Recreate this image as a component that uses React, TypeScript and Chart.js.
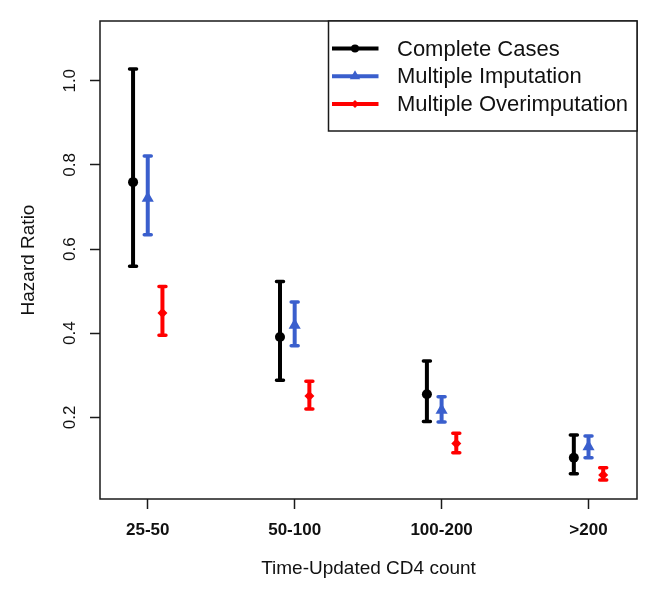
import React, { useEffect, useRef } from "react";
import { Chart, registerables } from "chart.js";
import { drawPoint } from "chart.js/helpers";

Chart.register(...registerables);

const categories = ["25-50", "50-100", "100-200", ">200"];
const seriesNames = ["Complete Cases", "Multiple Imputation", "Multiple Overimputation"];
const seriesColors = ["#000000", "#3A5FCD", "#FF0000"];
const seriesOffsets = [-0.1, 0, 0.1];

const ccEst = [0.759, 0.391, 0.255, 0.104];
const ccLo = [0.559, 0.288, 0.19, 0.066];
const ccHi = [1.028, 0.523, 0.334, 0.158];

const miEst = [0.721, 0.419, 0.217, 0.13];
const miLo = [0.634, 0.37, 0.189, 0.104];
const miHi = [0.821, 0.474, 0.249, 0.156];

const moEst = [0.448, 0.251, 0.138, 0.063];
const moLo = [0.395, 0.22, 0.116, 0.051];
const moHi = [0.511, 0.286, 0.162, 0.08];

const yTicks = [0.2, 0.4, 0.6, 0.8, 1.0];

const estimates = [ccEst, miEst, moEst];
const lows = [ccLo, miLo, moLo];
const highs = [ccHi, miHi, moHi];
const pointStyles = ["circle", "triangle", "rectRot"];
const pointRadii = [5, 7, 5];

const errorBarPlugin = {
  id: "errorBars",
  beforeDatasetsDraw(chart: any) {
    const ctx = chart.ctx;
    const xs = chart.scales.x;
    const ys = chart.scales.y;
    ctx.save();
    for (let s = 0; s < estimates.length; s++) {
      ctx.strokeStyle = seriesColors[s];
      for (let i = 0; i < categories.length; i++) {
        const px = xs.getPixelForValue(i + 1 + seriesOffsets[s]);
        const pLo = ys.getPixelForValue(lows[s][i]);
        const pHi = ys.getPixelForValue(highs[s][i]);
        ctx.lineWidth = 4;
        ctx.lineCap = "butt";
        ctx.beginPath();
        ctx.moveTo(px, pLo);
        ctx.lineTo(px, pHi);
        ctx.stroke();
        ctx.lineWidth = 3.5;
        ctx.lineCap = "round";
        ctx.beginPath();
        ctx.moveTo(px - 3.5, pLo);
        ctx.lineTo(px + 3.5, pLo);
        ctx.moveTo(px - 3.5, pHi);
        ctx.lineTo(px + 3.5, pHi);
        ctx.stroke();
      }
    }
    ctx.restore();
  },
  afterDraw(chart: any) {
    const ctx = chart.ctx;
    const a = chart.chartArea;
    ctx.save();
    ctx.strokeStyle = "#1a1a1a";
    ctx.lineWidth = 1.5;
    ctx.strokeRect(a.left, a.top, a.right - a.left, a.bottom - a.top);

    // legend
    const lx = 328.5;
    const ly = a.top;
    const lw = a.right - lx;
    const lh = 110;
    ctx.fillStyle = "#ffffff";
    ctx.fillRect(lx, ly, lw, lh);
    ctx.strokeRect(lx, ly, lw, lh);
    ctx.font = "22px 'Liberation Sans', Arial, sans-serif";
    ctx.textBaseline = "middle";
    ctx.textAlign = "left";
    for (let s = 0; s < seriesNames.length; s++) {
      const y = ly + 27.5 + s * 27.7;
      ctx.strokeStyle = seriesColors[s];
      ctx.lineWidth = 4;
      ctx.lineCap = "butt";
      ctx.beginPath();
      ctx.moveTo(lx + 3.5, y);
      ctx.lineTo(lx + 50, y);
      ctx.stroke();
      ctx.fillStyle = seriesColors[s];
      drawPoint(ctx, { pointStyle: pointStyles[s], radius: pointRadii[s] - 1, rotation: 0, borderWidth: 0 } as any, lx + 26.5, y);
      ctx.fillStyle = "#111111";
      ctx.fillText(seriesNames[s], lx + 68.5, y + 1);
    }
    ctx.restore();
  },
};

export default function App() {
  const ref = useRef<HTMLCanvasElement | null>(null);
  useEffect(() => {
    if (!ref.current) return;
    const datasets = estimates.map((est, s) => ({
      label: seriesNames[s],
      data: est.map((v, i) => ({ x: i + 1 + seriesOffsets[s], y: v })),
      backgroundColor: seriesColors[s],
      borderColor: seriesColors[s],
      borderWidth: 0,
      pointStyle: pointStyles[s],
      pointRadius: pointRadii[s],
      pointHoverRadius: pointRadii[s],
      showLine: false,
    }));
    const chart = new Chart(ref.current, {
      type: "scatter",
      data: { datasets },
      options: {
        animation: false,
        responsive: false,
        devicePixelRatio: 1,
        events: [],
        layout: { padding: { top: 21, right: 21, left: 0, bottom: 0 } },
        plugins: { legend: { display: false }, tooltip: { enabled: false } },
        scales: {
          x: {
            type: "linear",
            min: 0.675,
            max: 4.33,
            afterBuildTicks: (scale: any) => {
              scale.ticks = categories.map((_, i) => ({ value: i + 1 }));
            },
            afterFit: (scale: any) => {
              scale.height = 101;
            },
            grid: {
              drawOnChartArea: false,
              drawTicks: true,
              tickLength: 10,
              tickColor: "#1a1a1a",
              tickWidth: 1.5,
            },
            border: { display: false },
            ticks: {
              color: "#111111",
              padding: 11,
              maxRotation: 0,
              autoSkip: false,
              font: { family: "'Liberation Sans', Arial, sans-serif", size: 17, weight: "bold" },
              callback: (v: any) => categories[Math.round(Number(v)) - 1] ?? "",
            },
            title: {
              display: true,
              text: "Time-Updated CD4 count",
              color: "#111111",
              font: { family: "'Liberation Sans', Arial, sans-serif", size: 19 },
              padding: { top: 0, bottom: 19.6 },
            },
          },
          y: {
            type: "linear",
            min: 0.006,
            max: 1.142,
            afterBuildTicks: (scale: any) => {
              scale.ticks = yTicks.map((v) => ({ value: v }));
            },
            afterFit: (scale: any) => {
              scale.width = 100;
            },
            grid: {
              drawOnChartArea: false,
              drawTicks: true,
              tickLength: 10,
              tickColor: "#1a1a1a",
              tickWidth: 1.5,
            },
            border: { display: false },
            ticks: {
              color: "#111111",
              padding: 8.2,
              minRotation: 90,
              maxRotation: 90,
              crossAlign: "center",
              font: { family: "'Liberation Sans', Arial, sans-serif", size: 17 },
              callback: (v: any) => Number(v).toFixed(1),
            },
            title: {
              display: true,
              text: "Hazard Ratio",
              color: "#111111",
              font: { family: "'Liberation Sans', Arial, sans-serif", size: 19 },
              padding: { top: 17, bottom: 0 },
            },
          },
        },
      },
      plugins: [errorBarPlugin],
    } as any);
    return () => chart.destroy();
  }, []);
  return (
    <div style={{ position: "absolute", left: 0, top: 0, width: 658, height: 600, background: "#fff" }}>
      <canvas ref={ref} width={658} height={600} />
    </div>
  );
}
